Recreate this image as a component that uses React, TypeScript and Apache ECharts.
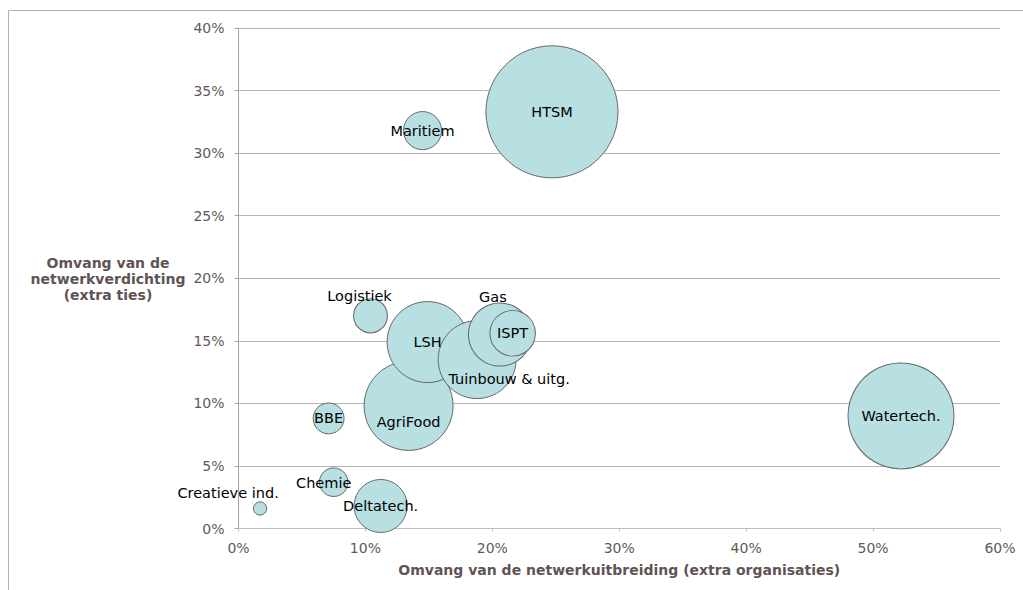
import React, { useEffect, useRef } from "react";
import * as echarts from "echarts";

// Topsectoren: netwerkuitbreiding vs netwerkverdichting
const names = [
  "HTSM",
  "Maritiem",
  "Logistiek",
  "Gas",
  "ISPT",
  "LSH",
  "Tuinbouw & uitg.",
  "AgriFood",
  "BBE",
  "Watertech.",
  "Chemie",
  "Creatieve ind.",
  "Deltatech.",
];
// x: extra organisaties (%)
const extraOrganisaties = [24.7, 14.5, 10.4, 20.6, 21.6, 14.9, 18.8, 13.4, 7.1, 52.2, 7.5, 1.7, 11.2];
// y: extra ties (%)
const extraTies = [33.3, 31.8, 17.0, 15.5, 15.6, 14.9, 13.5, 9.8, 8.8, 9.0, 3.7, 1.6, 1.8];
// bubble size (relative)
const bubbleSize = [100, 8.3, 6.6, 22.8, 11.9, 37.7, 34.9, 45.5, 5.5, 64.5, 4.7, 1.0, 16.1];

const xTicks = [0, 10, 20, 30, 40, 50, 60];
const yTicks = [0, 5, 10, 15, 20, 25, 30, 35, 40];

const xTitle = "Omvang van de netwerkuitbreiding (extra organisaties)";
const yTitle = "Omvang van de\nnetwerkverdichting\n(extra ties)";

// label placement tweaks (styling only)
const labelOffset: Record<string, [number, number]> = {
  Logistiek: [-11, -20],
  Gas: [-7, -38],
  "Tuinbouw & uitg.": [32, 19],
  AgriFood: [0, 16],
  Chemie: [-10, 1],
  "Creatieve ind.": [-32, -15],
};

const FONT = "DejaVu Sans, Verdana, sans-serif";
const MAX_DIAM = 132;

export default function App() {
  const ref = useRef<HTMLDivElement>(null);

  useEffect(() => {
    if (!ref.current) return;
    const chart = echarts.init(ref.current, undefined, { renderer: "svg" });

    const rows = names.map((n, i) => ({
      name: n,
      value: [extraOrganisaties[i], extraTies[i], bubbleSize[i]],
    }));
    rows.sort((a, b) => b.value[2] - a.value[2]);

    const data = rows.map((r) => {
      const off = labelOffset[r.name] || [0, 0];
      return {
        name: r.name,
        value: r.value,
        label: { offset: off },
      };
    });

    chart.setOption({
      animation: false,
      backgroundColor: "#ffffff",
      grid: { left: 238.5, right: 23, top: 28, bottom: 61.5, containLabel: false },
      xAxis: {
        type: "value",
        min: xTicks[0],
        max: xTicks[xTicks.length - 1],
        interval: 10,
        name: xTitle,
        nameLocation: "middle",
        nameGap: 34,
        nameTextStyle: { fontFamily: FONT, fontSize: 14, fontWeight: "bold", color: "#5f5353" },
        axisLine: { show: true, lineStyle: { color: "#bdbdbd", width: 1 } },
        axisTick: { show: true, inside: false, length: 3, lineStyle: { color: "#bdbdbd" } },
        axisLabel: {
          fontFamily: FONT,
          fontSize: 14,
          color: "#625a5a",
          margin: 12,
          formatter: (v: number) => `${v}%`,
        },
        splitLine: { show: false },
      },
      yAxis: {
        type: "value",
        min: yTicks[0],
        max: yTicks[yTicks.length - 1],
        interval: 5,
        axisLine: { show: true, lineStyle: { color: "#a3a3a3", width: 1 } },
        axisTick: { show: true, inside: false, length: 4, lineStyle: { color: "#a3a3a3" } },
        axisLabel: {
          fontFamily: FONT,
          fontSize: 14,
          color: "#625a5a",
          margin: 14,
          formatter: (v: number) => `${v}%`,
        },
        splitLine: { show: true, lineStyle: { color: "#b5b5b5", width: 1 } },
      },
      graphic: [
        {
          type: "line",
          shape: { x1: 8.5, y1: 10.5, x2: 1023, y2: 10.5 },
          style: { stroke: "#b0b0b0", lineWidth: 1 },
          silent: true,
        },
        {
          type: "line",
          shape: { x1: 8.5, y1: 10.5, x2: 8.5, y2: 590 },
          style: { stroke: "#b0b0b0", lineWidth: 1 },
          silent: true,
        },
        {
          type: "text",
          x: 108,
          y: 279,
          style: {
            text: yTitle,
            fontFamily: FONT,
            fontSize: 14,
            fontWeight: "bold",
            fill: "#5f5353",
            align: "center",
            verticalAlign: "middle",
            lineHeight: 16,
          },
        },
      ],
      series: [
        {
          type: "scatter",
          data,
          symbol: "circle",
          symbolSize: (v: number[]) => MAX_DIAM * Math.sqrt(v[2] / 100),
          itemStyle: {
            color: "#b8dfe2",
            borderColor: "#666666",
            borderWidth: 1,
            opacity: 1,
          },
          label: {
            show: true,
            position: "inside",
            formatter: (p: any) => p.name,
            fontFamily: FONT,
            fontSize: 14.5,
            color: "#000000",
          },
          emphasis: { disabled: true },
        },
      ],
    });

    return () => chart.dispose();
  }, []);

  return (
    <div
      ref={ref}
      style={{ position: "fixed", left: 0, top: 0, width: 1023, height: 590, background: "#fff" }}
    />
  );
}
